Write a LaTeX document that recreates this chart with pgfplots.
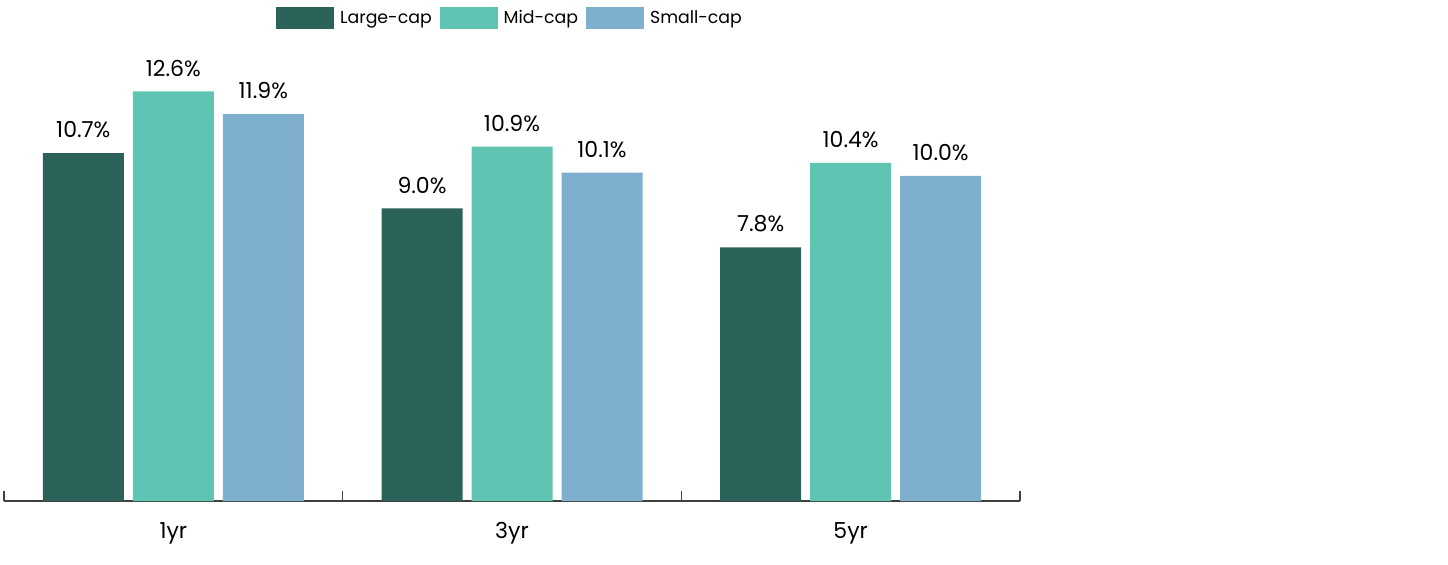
\documentclass[border=0pt]{standalone}
\usepackage{fontspec}
\setmainfont{Poppins}
\usepackage{pgfplots}
\pgfplotsset{compat=1.18}
\definecolor{cLarge}{HTML}{2A6158}
\definecolor{cMid}{HTML}{5FC4B1}
\definecolor{cSmall}{HTML}{7EB0CE}
\definecolor{axc}{HTML}{404040}
\begin{document}
\begin{tikzpicture}
\path[use as bounding box] (-3pt,-47.25pt) rectangle (1083pt,375.75pt);
\begin{axis}[
  at={(0pt,0pt)}, anchor=origin,
  scale only axis,
  width=762pt, height=362.25pt,
  xmin=0, xmax=3, ymin=0, ymax=14.86,
  ybar, bar width=60.75pt, ybar=6.75pt,
  axis y line=none,
  axis x line*=bottom,
  x axis line style={-, draw=axc, line width=0.8pt},
  xtick={0.5,1.5,2.5},
  xticklabels={1yr,3yr,5yr},
  major tick length=0pt,
  minor xtick={0,1,2,3},
  minor tick length=7.5pt,
  tick align=inside,
  every minor tick/.style={draw=axc, line width=0.8pt},
  xticklabel style={anchor=center, yshift=-24pt, font=\fontsize{16.5}{19}\selectfont, text=black},
  /pgf/number format/assume math mode=true,
  nodes near coords={\pgfmathprintnumber[fixed,fixed zerofill,precision=1]{\pgfplotspointmeta}\%},
  every node near coord/.append style={anchor=center, yshift=17.5pt, font=\fontsize{16.5}{19}\selectfont, text=black},
  legend columns=3,
  legend style={at={(0.5,1)}, anchor=center, draw=none, fill=none,
    font=\fontsize{13}{16}\selectfont,
    /tikz/every even column/.append style={column sep=1.5pt},
    nodes={inner xsep=4.5pt}},
  legend image code/.code={\fill[#1] (0pt,-7.9pt) rectangle (43.5pt,7.9pt);},
  clip=false,
]
\addplot[fill=cLarge, draw=none] coordinates {(0.5,10.7) (1.5,9.0) (2.5,7.8)};
\addplot[fill=cMid, draw=none] coordinates {(0.5,12.6) (1.5,10.9) (2.5,10.4)};
\addplot[fill=cSmall, draw=none] coordinates {(0.5,11.9) (1.5,10.1) (2.5,10.0)};
\legend{Large-cap,Mid-cap,Small-cap}
\end{axis}
\end{tikzpicture}
\end{document}
